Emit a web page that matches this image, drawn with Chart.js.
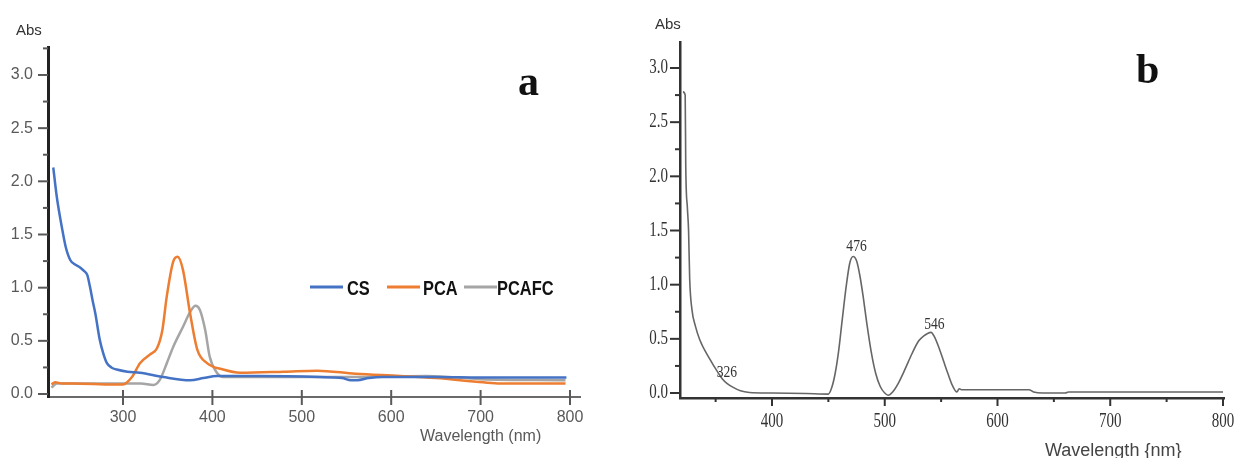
<!DOCTYPE html>
<html>
<head>
<meta charset="utf-8">
<script src="https://cdn.jsdelivr.net/npm/chart.js@4"></script>
<style>
  body { margin: 0; background: #fff; }
  .panel { position: absolute; top: 0; }
</style>
</head>
<body>
<div class="panel" style="left:0"><canvas id="chartA" width="615" height="458"></canvas></div>
<div class="panel" style="left:615px"><canvas id="chartB" width="620" height="458"></canvas></div>
<script>
// panel a - three spectra
const csWave = [222, 226, 232, 236, 241, 246, 252, 256, 260, 263, 266, 269, 274, 278, 282, 287, 293, 305, 319, 345, 375, 390, 405, 450, 520, 545, 555, 562, 575, 590, 650, 700, 796];
const csAbs  = [2.13, 1.85, 1.55, 1.38, 1.26, 1.22, 1.19, 1.16, 1.12, 1.01, 0.88, 0.76, 0.51, 0.38, 0.29, 0.25, 0.23, 0.21, 0.2, 0.16, 0.13, 0.15, 0.17, 0.17, 0.16, 0.15, 0.13, 0.13, 0.15, 0.16, 0.16, 0.155, 0.155];

const pcaWave = [220, 224, 232, 244, 290, 300, 310, 319, 330, 338, 344, 349, 356, 361, 367, 375, 383, 394, 412, 431, 480, 517, 560, 610, 650, 703, 722, 795];
const pcaAbs  = [0.09, 0.11, 0.1, 0.1, 0.09, 0.09, 0.16, 0.29, 0.37, 0.43, 0.6, 0.92, 1.24, 1.29, 1.17, 0.76, 0.42, 0.29, 0.23, 0.2, 0.21, 0.22, 0.19, 0.17, 0.15, 0.11, 0.1, 0.1];

const pcafcWave = [220, 226, 244, 320, 334, 341, 349, 356, 367, 375, 381, 386, 392, 397, 405, 412, 450, 550, 640, 700, 795];
const pcafcAbs  = [0.06, 0.1, 0.1, 0.1, 0.085, 0.13, 0.29, 0.44, 0.63, 0.77, 0.83, 0.79, 0.6, 0.35, 0.2, 0.16, 0.16, 0.16, 0.17, 0.14, 0.13];

const seriesNames = ['CS', 'PCA', 'PCAFC'];
const xTicksA = [300, 400, 500, 600, 700, 800];
const yTicks = [0, 0.5, 1, 1.5, 2, 2.5, 3];
const yMinor = [0.25, 0.75, 1.25, 1.75, 2.25, 2.75, 3.25];

// panel b - single spectrum
const bWave = [321, 323, 323.5, 325, 326, 327, 329, 332, 336, 345, 352, 356, 360, 366, 372, 380, 400, 430, 450, 453, 456, 459, 462, 466, 469, 472, 475, 478, 481, 484, 488, 492, 496, 500, 503, 507, 512, 518, 524, 530, 535, 538, 541, 544, 548, 552, 556, 560, 564, 566, 568, 600, 628, 632, 640, 660, 663, 700, 750, 800];
const bAbs  = [2.78, 2.75, 2.1, 1.7, 1.5, 1.05, 0.77, 0.62, 0.49, 0.31, 0.19, 0.13, 0.09, 0.05, 0.02, 0.005, 0, -0.005, -0.01, 0.05, 0.18, 0.38, 0.65, 1.0, 1.2, 1.26, 1.22, 1.08, 0.88, 0.65, 0.38, 0.18, 0.06, 0, -0.02, 0.01, 0.09, 0.22, 0.36, 0.48, 0.53, 0.55, 0.56, 0.52, 0.42, 0.3, 0.18, 0.07, 0.01, 0.04, 0.03, 0.03, 0.03, 0.01, 0, 0, 0.01, 0.01, 0.01, 0.01];
const xTicksB = [400, 500, 600, 700, 800];
const xMinorB = [350, 450, 550, 650, 750];
const peakLabels = ['326', '476', '546'];
const peakAtX = [360, 475, 544];
const peakAtY = [0.19, 1.35, 0.63];

function pairs(xs, ys) {
    return xs.map((x, i) => ({ x: x, y: ys[i] }));
}

// text squeezed horizontally (condensed look)
function narrowText(ctx, s, x, y, sx, align) {
    ctx.save();
    ctx.translate(x, y);
    ctx.scale(sx, 1);
    ctx.textAlign = align;
    ctx.fillText(s, 0, 0);
    ctx.restore();
}

// ticks, free texts, legend and peak labels
const decor = {
    id: 'decor',
    afterDraw(chart, args, o) {
        const ctx = chart.ctx;
        const xs = chart.scales.x, ys = chart.scales.y;
        const area = chart.chartArea;
        ctx.save();
        ctx.strokeStyle = o.tickColor;
        ctx.lineWidth = o.tickWidth;
        const seg = (x1, y1, x2, y2) => { ctx.beginPath(); ctx.moveTo(x1, y1); ctx.lineTo(x2, y2); ctx.stroke(); };
        yTicks.forEach(v => { const p = ys.getPixelForValue(v); seg(area.left - 10, p, area.left, p); });
        yMinor.forEach(v => { if (v < ys.max) { const p = ys.getPixelForValue(v); seg(area.left - 5, p, area.left, p); } });
        o.xMajor.forEach(v => { const p = xs.getPixelForValue(v); seg(p, area.bottom - o.xUp, p, area.bottom + 8); });
        (o.xMinor || []).forEach(v => { const p = xs.getPixelForValue(v); seg(p, area.bottom, p, area.bottom + 4); });

        if (o.labels) {
            const T = o.labels;
            ctx.font = T.font;
            ctx.fillStyle = T.color;
            ctx.textBaseline = 'middle';
            yTicks.forEach(v => narrowText(ctx, v.toFixed(1), area.left - T.yPad, ys.getPixelForValue(v), T.sx, 'right'));
            o.xMajor.forEach(v => narrowText(ctx, String(v), xs.getPixelForValue(v), area.bottom + T.xOff, T.sx, 'center'));
        }

        ctx.textBaseline = 'alphabetic';
        o.texts.forEach(t => {
            ctx.font = t.font;
            ctx.fillStyle = t.color;
            ctx.textAlign = 'left';
            ctx.fillText(t.text, t.x, t.y);
        });

        if (o.legend) {
            const L = o.legend;
            chart.data.datasets.forEach((ds, i) => {
                ctx.strokeStyle = ds.borderColor;
                ctx.lineWidth = 3;
                seg(L.lineFrom[i], L.y, L.lineTo[i], L.y);
                ctx.font = L.font;
                ctx.fillStyle = '#111';
                narrowText(ctx, ds.label, L.textAt[i], L.y + 8, 0.82, 'left');
            });
        }

        if (o.peaks) {
            ctx.font = '16px "Liberation Serif"';
            ctx.fillStyle = '#333';
            ctx.textBaseline = 'middle';
            peakLabels.forEach((s, i) => narrowText(ctx, s, xs.getPixelForValue(peakAtX[i]), ys.getPixelForValue(peakAtY[i]), 0.85, 'center'));
        }
        ctx.restore();
    }
};

function axes(cfg) {
    return {
        x: {
            type: 'linear', min: cfg.xMin, max: cfg.xMax,
            grid: { display: false, drawTicks: false },
            border: { color: cfg.xBorder, width: cfg.xBorderWidth },
            ticks: { display: cfg.showTicks, padding: cfg.xPad, color: cfg.tickColor, font: cfg.tickFont, maxRotation: 0 },
            afterBuildTicks: s => { s.ticks = cfg.xTicks.map(v => ({ value: v })); },
            afterFit: s => { s.height = cfg.xHeight; s.paddingLeft = 0; s.paddingRight = 0; }
        },
        y: {
            type: 'linear', min: cfg.yMin, max: cfg.yMax,
            grid: { display: false, drawTicks: false },
            border: { color: cfg.yBorder, width: cfg.yBorderWidth },
            ticks: { display: cfg.showTicks, padding: cfg.yPad, color: cfg.tickColor, font: cfg.tickFont, callback: v => v.toFixed(1) },
            afterBuildTicks: s => { s.ticks = yTicks.map(v => ({ value: v })); },
            afterFit: s => { s.width = cfg.yWidth; s.paddingTop = 0; s.paddingBottom = 0; }
        }
    };
}

const colors = ['#4472C4', '#ED7D31', '#A5A5A5'];
const waves = [csWave, pcaWave, pcafcWave];
const absVals = [csAbs, pcaAbs, pcafcAbs];

new Chart(document.getElementById('chartA'), {
    type: 'line',
    data: {
        datasets: seriesNames.map((name, i) => ({
            label: name,
            data: pairs(waves[i], absVals[i]),
            borderColor: colors[i],
            borderWidth: 2.5,
            pointRadius: 0,
            cubicInterpolationMode: 'monotone'
        }))
    },
    options: {
        responsive: false,
        animation: false,
        layout: { padding: { left: 0, right: 35, top: 47, bottom: 0 } },
        scales: axes({
            xMin: 216.1, xMax: 811.2, xTicks: xTicksA, xHeight: 61, xPad: 11,
            yMin: -0.028, yMax: 3.263, yWidth: 48, yPad: 15, showTicks: true,
            xBorder: '#6a6a6a', xBorderWidth: 2, yBorder: '#222', yBorderWidth: 3,
            tickColor: '#595959', tickFont: { family: '"Liberation Sans", Arial', size: 16 }
        }),
        plugins: {
            legend: { display: false },
            tooltip: { enabled: false },
            decor: {
                tickColor: '#595959', tickWidth: 2,
                xMajor: xTicksA, xUp: 7,
                texts: [
                    { text: 'Abs', x: 16, y: 35, font: '15px "Liberation Sans"', color: '#333' },
                    { text: 'Wavelength (nm)', x: 420, y: 441, font: '16px "Liberation Sans"', color: '#595959' },
                    { text: 'a', x: 518, y: 95, font: 'bold 42px "Liberation Serif"', color: '#111' }
                ],
                legend: {
                    y: 287,
                    lineFrom: [310, 387, 464],
                    lineTo: [343, 420, 497],
                    textAt: [347, 423, 497],
                    font: 'bold 20px "Liberation Sans"'
                }
            }
        }
    },
    plugins: [decor]
});

new Chart(document.getElementById('chartB'), {
    type: 'line',
    data: {
        datasets: [{
            label: 'b',
            data: pairs(bWave, bAbs),
            borderColor: '#666',
            borderWidth: 1.6,
            pointRadius: 0,
            cubicInterpolationMode: 'monotone'
        }]
    },
    options: {
        responsive: false,
        animation: false,
        layout: { padding: { left: 0, right: 11, top: 42, bottom: 0 } },
        scales: axes({
            xMin: 318.4, xMax: 800.9, xTicks: xTicksB, xHeight: 60, xPad: 13,
            yMin: -0.046, yMax: 3.24, yWidth: 65, yPad: 12, showTicks: false,
            xBorder: '#333', xBorderWidth: 2.5, yBorder: '#333', yBorderWidth: 2.5,
            tickColor: '#333', tickFont: { family: '"Liberation Serif", serif', size: 17 }
        }),
        plugins: {
            legend: { display: false },
            tooltip: { enabled: false },
            decor: {
                tickColor: '#333', tickWidth: 2,
                xMajor: xTicksB, xMinor: xMinorB, xUp: 0,
                labels: { font: '20px "Liberation Serif"', color: '#333', sx: 0.75, yPad: 12, xOff: 24 },
                texts: [
                    { text: 'Abs', x: 40, y: 29, font: '15px "Liberation Sans"', color: '#333' },
                    { text: 'Wavelength {nm}', x: 430, y: 456, font: '18px "Liberation Sans"', color: '#444' },
                    { text: 'b', x: 521, y: 83, font: 'bold 42px "Liberation Serif"', color: '#111' }
                ],
                peaks: true
            }
        }
    },
    plugins: [decor]
});
</script>
</body>
</html>
